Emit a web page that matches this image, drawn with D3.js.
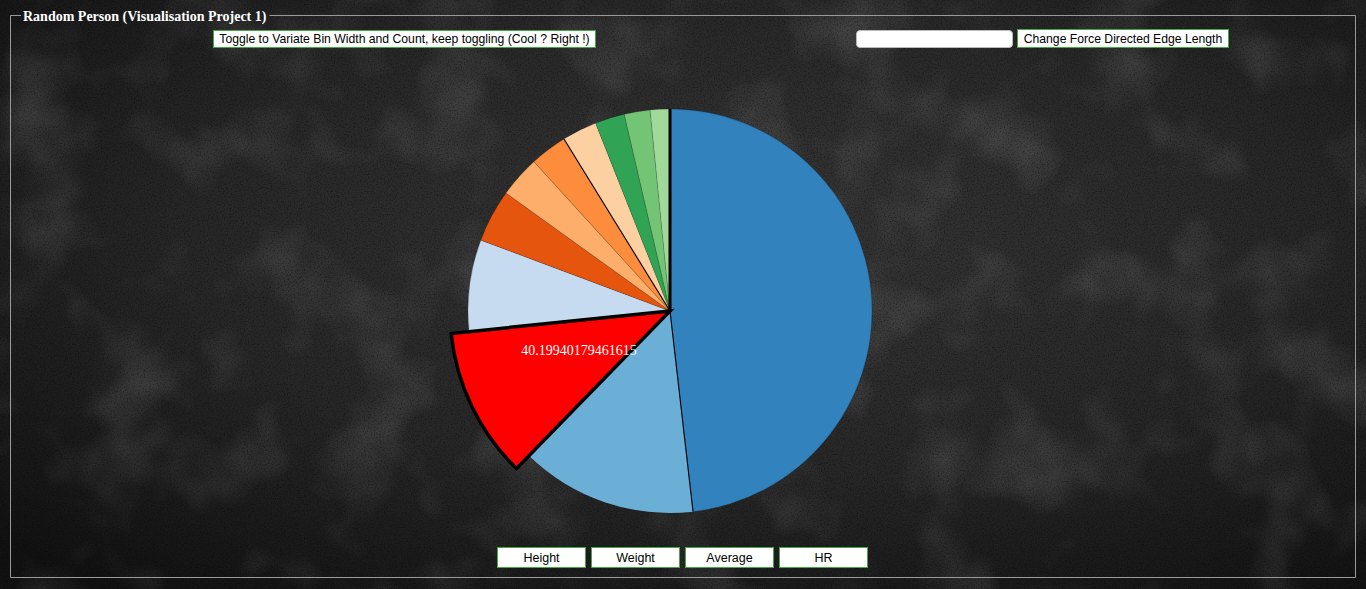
<!DOCTYPE html>
<html>
<head>
<meta charset="utf-8">
<script src="https://cdn.jsdelivr.net/npm/d3@7"></script>
<style>
  html, body { margin: 0; padding: 0; width: 1366px; height: 589px; overflow: hidden; background: #1b1b1b; }
  #stage { position: absolute; left: 0; top: 0; }
  .btn {
    position: absolute; box-sizing: border-box; background: #fff; border: 1px solid #45a845;
    font-family: "Liberation Sans", Arial, sans-serif; font-size: 12.2px; color: #000;
    text-align: center; padding: 0; margin: 0; white-space: nowrap;
  }
  .inp {
    position: absolute; box-sizing: border-box; background: #fff; border: 1px solid #bbb;
    border-radius: 4px; padding: 0; margin: 0;
  }
</style>
</head>
<body>
<svg id="stage" width="1366" height="589"></svg>
<script>
// ---- data ----
const title = "Random Person (Visualisation Project 1)";
const categories = ["Bin 1","Bin 2","Bin 3","Bin 4","Bin 5","Bin 6","Bin 7","Bin 8","Bin 9","Bin 10","Bin 11"];
const values = [174.8, 51.2, 40.19940179461615, 26.6, 15.3, 10.8, 12.0, 10.1, 8.6, 7.5, 5.7];
const palette = ["#3182bd","#6baed6","#9ecae1","#c6dbef","#e6550d","#fd8d3c","#fdae6b","#fdd0a2","#31a354","#74c476","#a1d99b"];
const highlighted = 2;
const topButtons = ["Toggle to Variate Bin Width and Count, keep toggling (Cool ? Right !)", "Change Force Directed Edge Length"];
const bottomButtons = ["Height","Weight","Average","HR"];

const W = 1366, H = 589;
const svg = d3.select("#stage");
const defs = svg.append("defs");

// background
const rg = defs.append("radialGradient").attr("id","bg").attr("cx","55%").attr("cy","40%").attr("r","75%");
rg.append("stop").attr("offset","0%").attr("stop-color","#353535");
rg.append("stop").attr("offset","55%").attr("stop-color","#272727");
rg.append("stop").attr("offset","100%").attr("stop-color","#121212");
const noise = defs.append("filter").attr("id","noise").attr("x",0).attr("y",0).attr("width","100%").attr("height","100%");
noise.append("feTurbulence").attr("type","fractalNoise").attr("baseFrequency","0.7").attr("numOctaves",2).attr("seed",3);
noise.append("feColorMatrix").attr("type","matrix")
  .attr("values","0 0 0 0 0  0 0 0 0 0  0 0 0 0 0  0 0 0 -1.8 1.0");
const blotch = defs.append("filter").attr("id","blotch").attr("x",0).attr("y",0).attr("width","100%").attr("height","100%");
blotch.append("feTurbulence").attr("type","fractalNoise").attr("baseFrequency","0.012").attr("numOctaves",3).attr("seed",11);
blotch.append("feColorMatrix").attr("type","matrix")
  .attr("values","0 0 0 0 1  0 0 0 0 1  0 0 0 0 1  0 0 0 -2.5 1.3");

svg.append("rect").attr("width",W).attr("height",H).attr("fill","url(#bg)");
svg.append("rect").attr("width",W).attr("height",H).attr("filter","url(#blotch)").attr("opacity",0.12);
svg.append("rect").attr("width",W).attr("height",H).attr("filter","url(#noise)").attr("opacity",0.45);

// fieldset border
const fs = {x0: 10.5, y0: 15.5, x1: 1355.5, y1: 577.5};
const legendText = svg.append("text")
  .attr("x", 23).attr("y", 20.5)
  .attr("font-family","'Liberation Serif', 'Times New Roman', serif")
  .attr("font-weight","bold").attr("font-size", 14).attr("fill","#fff")
  .text(title);
const tw = legendText.node().getComputedTextLength();
const gx0 = 21, gx1 = 23 + tw + 3;
svg.append("path")
  .attr("d", `M${gx0},${fs.y0}H${fs.x0}V${fs.y1}H${fs.x1}V${fs.y0}H${gx1}`)
  .attr("fill","none").attr("stroke","#9a9a9a").attr("stroke-width",1);

// pie
const cx = 670, cy = 311, R = 202, Rh = 220;
const pie = d3.pie().value(d => d.v);  // default: sorted by value descending
const data = values.map((v,i) => ({name: categories[i], v, i}));
const arcs = pie(data);
const arc = d3.arc().innerRadius(0).outerRadius(R);
const arcH = d3.arc().innerRadius(0).outerRadius(Rh);
const color = d3.scaleOrdinal().domain(d3.range(values.length)).range(palette);

const g = svg.append("g").attr("transform",`translate(${cx},${cy})`);
const strongEdges = new Set([1, 7]);
g.selectAll("path.slice").data(arcs.filter(a => a.data.i !== highlighted)).join("path")
  .attr("class","slice")
  .attr("d", arc)
  .attr("fill", a => color(a.data.i))
  .attr("stroke", "#000")
  .attr("stroke-width", 0.6)
  .attr("stroke-opacity", a => strongEdges.has(a.data.i) ? 0 : 0.25);

arcs.filter(a => strongEdges.has(a.data.i)).forEach(a => {
  const p = d3.pointRadial(a.startAngle, R);
  g.append("line").attr("x1",0).attr("y1",0).attr("x2",p[0]).attr("y2",p[1])
    .attr("stroke","#000").attr("stroke-width",1.1);
});
{
  const p = d3.pointRadial(0, R);
  g.append("line").attr("x1",0).attr("y1",0).attr("x2",p[0]).attr("y2",p[1])
    .attr("stroke","#000").attr("stroke-width",3);
}

// highlighted slice
const hA = arcs.find(a => a.data.i === highlighted);
g.append("path").attr("d", arcH(hA))
  .attr("fill","#ff0000").attr("stroke","#000").attr("stroke-width",3.5).attr("stroke-linejoin","miter");
const c = arc.centroid(hA);
g.append("text").attr("x", c[0]).attr("y", c[1])
  .attr("text-anchor","middle")
  .attr("font-family","'Liberation Serif', 'Times New Roman', serif")
  .attr("font-size",14).attr("fill","#fff")
  .text(hA.data.v);

// controls (HTML)
const body = d3.select("body");
body.append("button").attr("class","btn")
  .style("left","213px").style("top","30px").style("width","383px").style("height","18px")
  .text(topButtons[0]);
body.append("input").attr("class","inp").attr("type","text")
  .style("left","856px").style("top","30px").style("width","157px").style("height","18px");
body.append("button").attr("class","btn")
  .style("left","1017px").style("top","29px").style("width","212px").style("height","19px")
  .text(topButtons[1]);
const bx = d3.scaleBand().domain(bottomButtons).range([497, 868]).paddingInner(5/94).paddingOuter(0);
bottomButtons.forEach(b => {
  body.append("button").attr("class","btn")
    .style("left", bx(b) + "px").style("top","547px")
    .style("width", bx.bandwidth() + "px").style("height","21px")
    .style("font-size","12.5px")
    .text(b);
});
</script>
</body>
</html>
